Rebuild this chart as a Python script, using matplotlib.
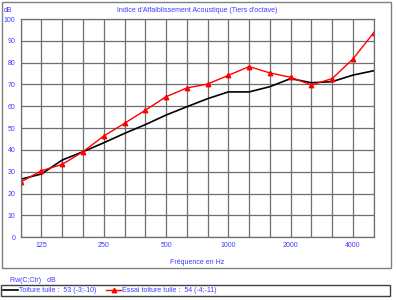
import matplotlib
matplotlib.use("Agg")
import matplotlib.pyplot as plt
from matplotlib.patches import Rectangle

plt.rcParams['font.family'] = ['Liberation Sans', 'DejaVu Sans']

freqs = [100, 125, 160, 200, 250, 315, 400, 500, 630, 800,
         1000, 1250, 1600, 2000, 2500, 3150, 4000, 5000]
toiture = [26.6, 29.0, 35.4, 39.2, 43.3, 47.6, 51.6, 56.0, 59.8, 63.5,
           66.6, 66.6, 69.0, 72.7, 70.8, 71.3, 74.3, 76.3]
essai = [25.3, 30.5, 33.4, 39.2, 46.4, 52.2, 58.2, 64.4, 68.4, 70.2,
         74.2, 78.2, 75.3, 73.3, 69.8, 72.7, 81.7, 93.7]
tick_labels = ['125', '250', '500', '1000', '2000', '4000']
label_toiture = "Toiture tuile :  53 (-3;-10)"
label_essai = "Essai toiture tuile :  54 (-4;-11)"

blue = '#3c3cff'
grid_c = '#6e6e6e'
fs = 5

fig = plt.figure(figsize=(3.96, 3.0), dpi=100)
ax = fig.add_axes([20.7 / 396, 1 - 237.3 / 300, 353 / 396, 218.3 / 300])

x = list(range(len(freqs)))
l1, = ax.plot(x, toiture, color='black', lw=1.2, label=label_toiture)
l2, = ax.plot(x, essai, color='red', lw=1.0, marker='^', ms=3.2,
              markerfacecolor='red', markeredgecolor='red', label=label_essai)

ax.set_xlim(0, len(freqs) - 1)
ax.set_ylim(0, 100)
ax.set_xticks(x, minor=True)
ax.set_xticks([freqs.index(int(t)) for t in tick_labels])
ax.set_xticklabels(tick_labels)
ax.set_yticks(range(0, 101, 10))
ax.grid(True, which='both', color=grid_c, lw=0.9)
ax.set_axisbelow(True)
ax.tick_params(which='both', length=0, labelsize=fs, labelcolor=blue)
ax.tick_params(axis='y', pad=4)
ax.tick_params(axis='x', pad=3.5)
for s in ax.spines.values():
    s.set_color(grid_c)
    s.set_linewidth(0.9)

ax.set_title("Indice d'Affaiblissement Acoustique (Tiers d'octave)",
             fontsize=fs, color=blue, pad=5)
ax.set_xlabel("Fréquence en Hz", fontsize=fs, color=blue, labelpad=7)
fig.text(4 / 396, 1 - 10 / 300, "dB", fontsize=fs, color=blue, va='center')

# outer frames
fig.patches.append(Rectangle((2 / 396, 1 - 268 / 300), 389 / 396, 266 / 300,
                             transform=fig.transFigure, fill=False,
                             ec='#808080', lw=1.0))
fig.patches.append(Rectangle((1 / 396, 1 - 295.5 / 300), 389 / 396, 10.5 / 300,
                             transform=fig.transFigure, fill=False,
                             ec='#404040', lw=1.0))
fig.text(10 / 396, 1 - 280 / 300, "Rw(C;Ctr)   dB", fontsize=fs,
         color=blue, va='center')

leg = fig.legend(handles=[l1, l2], loc='center left',
                 bbox_to_anchor=(3 / 396, 1 - 290.5 / 300), ncol=2,
                 frameon=False, fontsize=fs, handlelength=2.2,
                 handletextpad=0.1, columnspacing=1.4, borderpad=0,
                 borderaxespad=0)
for t in leg.get_texts():
    t.set_color(blue)

fig.savefig('out.png', dpi=100)
